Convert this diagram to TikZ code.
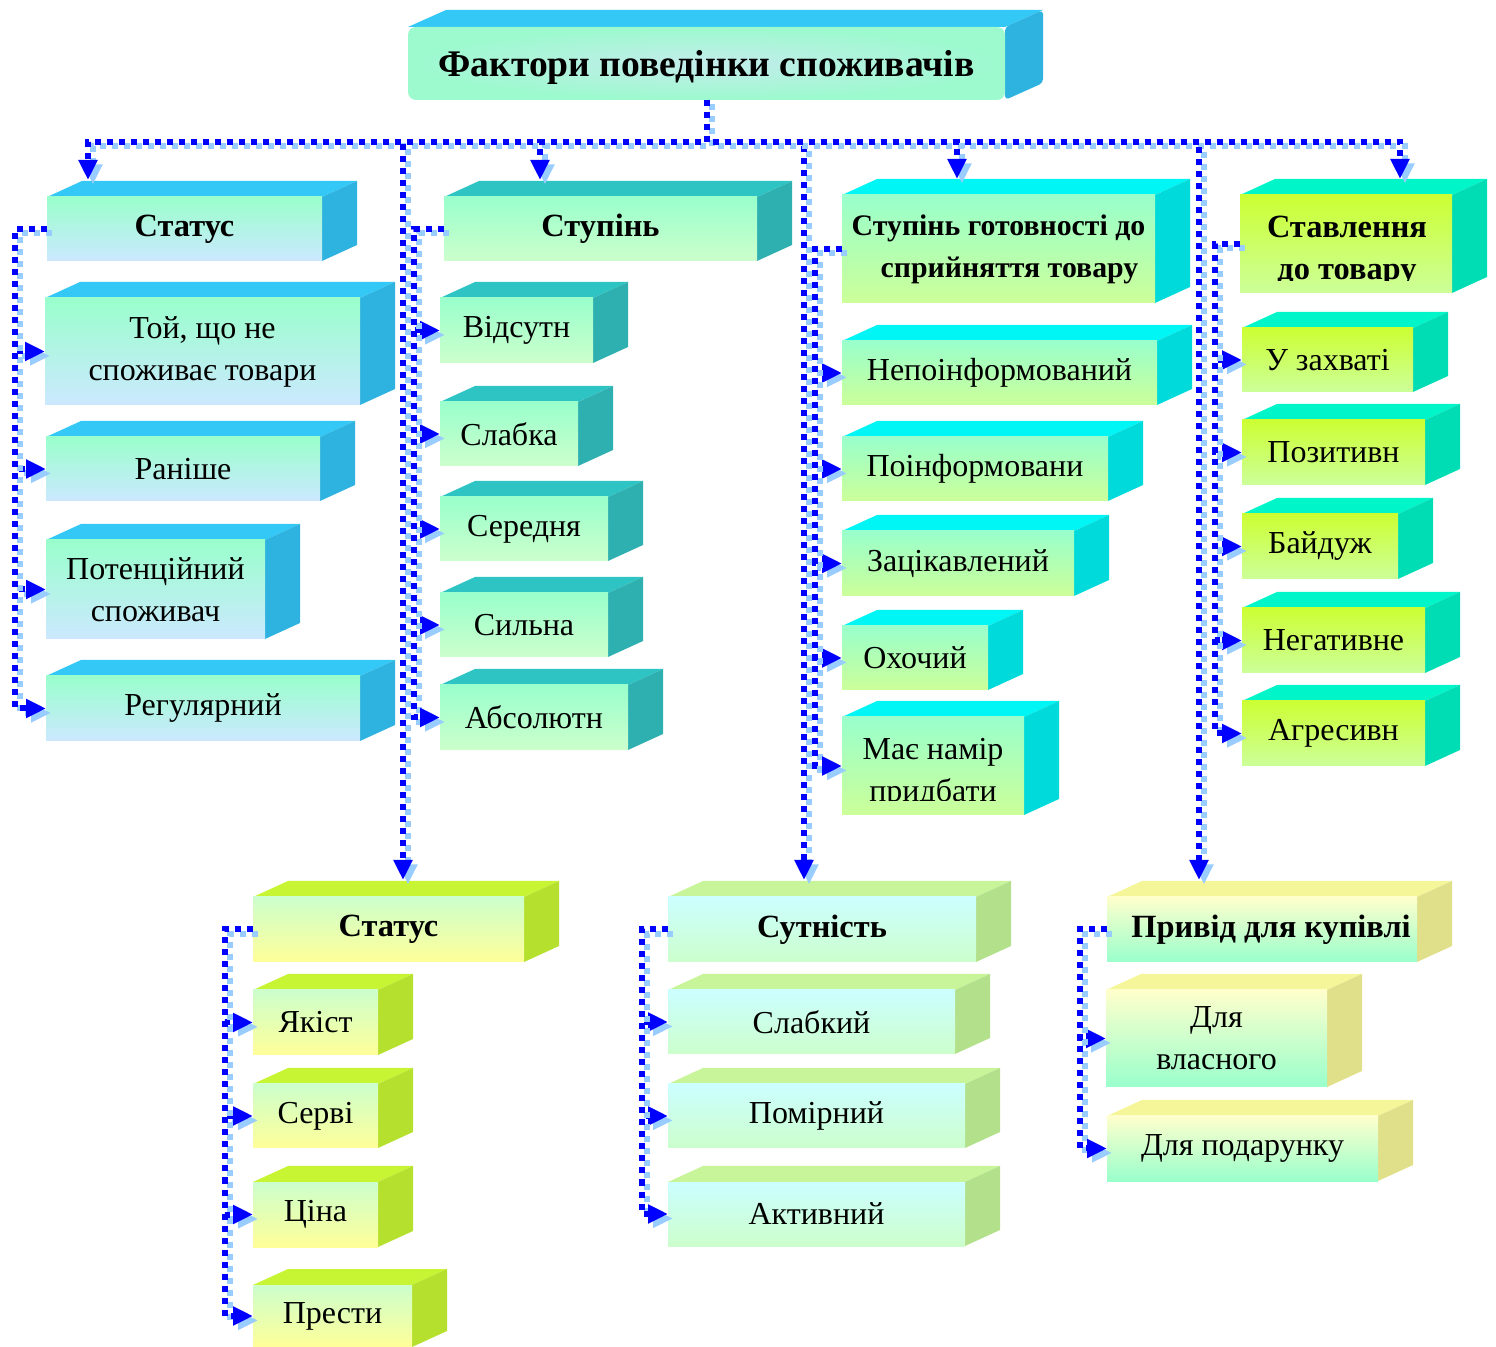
\documentclass[tikz,border=0pt]{standalone}
\usepackage{fontspec}
\setmainfont{Liberation Serif}
\usetikzlibrary{arrows.meta,calc}

\definecolor{wireblue}{HTML}{0000FF}
\definecolor{wirelight}{HTML}{99CCFF}

\newcommand\regfont{\fontsize{16}{21}\selectfont}
\newcommand\boldfont{\fontsize{16.2}{21}\selectfont\bfseries}
\newcommand\smallbold{\fontsize{14.9}{21}\selectfont\bfseries}
\newcommand\titlefont{\fontsize{18.8}{24}\selectfont\bfseries}

\tikzset{
  box/.style={inner sep=0pt, outer sep=0pt, align=center, font=\regfont, text=black},
  % colour schemes: top face, side face, front face
  Atop/.style={fill={rgb,255:red,51;green,200;blue,245}},
  Aside/.style={fill={rgb,255:red,46;green,178;blue,223}},
  Afront/.style={top color={rgb,255:red,153;green,255;blue,204}, bottom color={rgb,255:red,204;green,232;blue,255}},
  Btop/.style={fill={rgb,255:red,46;green,196;blue,196}},
  Bside/.style={fill={rgb,255:red,46;green,176;blue,176}},
  Bfront/.style={top color={rgb,255:red,153;green,255;blue,204}, bottom color={rgb,255:red,204;green,255;blue,204}},
  Ctop/.style={fill={rgb,255:red,0;green,245;blue,245}},
  Cside/.style={fill={rgb,255:red,0;green,218;blue,218}},
  Cfront/.style={top color={rgb,255:red,153;green,255;blue,204}, bottom color={rgb,255:red,204;green,255;blue,153}},
  Dtop/.style={fill={rgb,255:red,0;green,245;blue,200}},
  Dside/.style={fill={rgb,255:red,0;green,221;blue,181}},
  Dfront/.style={top color={rgb,255:red,204;green,255;blue,51}, bottom color={rgb,255:red,204;green,255;blue,153}},
  Etop/.style={fill={rgb,255:red,200;green,245;blue,51}},
  Eside/.style={fill={rgb,255:red,181;green,224;blue,46}},
  Efront/.style={top color={rgb,255:red,204;green,255;blue,204}, bottom color={rgb,255:red,255;green,255;blue,153}},
  Ftop/.style={fill={rgb,255:red,200;green,245;blue,154}},
  Fside/.style={fill={rgb,255:red,179;green,224;blue,138}},
  Ffront/.style={top color={rgb,255:red,204;green,255;blue,255}, bottom color={rgb,255:red,204;green,255;blue,204}},
  Gtop/.style={fill={rgb,255:red,245;green,245;blue,153}},
  Gside/.style={fill={rgb,255:red,224;green,224;blue,138}},
  Gfront/.style={top color={rgb,255:red,255;green,255;blue,204}, bottom color={rgb,255:red,153;green,255;blue,204}},
  % dotted connectors with a pale offset shadow
  wireline/.style={draw=wireblue, line width=3pt, dash pattern=on 3pt off 3pt,
    -{Triangle[length=10pt,width=9pt]}},
  wireshade/.style={draw=wirelight, line width=3pt, dash pattern=on 3pt off 3pt,
    -{Triangle[length=10pt,width=9pt]}, transform canvas={shift={(2.5pt,-2.2pt)}}},
}

% solid box: top face, right face, shaded front face carrying the text
% #1 name, #2 scheme, #3 #4 front top-left, #5 #6 front bottom-right, #7 text
\newcommand\solidbox[7]{%
  \fill[#2top] (#3,#4) -- (#3+35,#4-16) -- (#5+35,#4-16) -- (#5,#4) -- cycle;
  \fill[#2side] (#5,#4) -- (#5+35,#4-16) -- (#5+35,#6-16) -- (#5,#6) -- cycle;
  \node[box,#2front,minimum width={(#5-#3)*0.5pt},minimum height={(#6-#4)*0.5pt}]
    (#1) at ({(#3+#5)/2},{(#4+#6)/2}) {#7};
}
\newcommand\wire[1]{\draw[wireshade] #1; \draw[wireline] #1;}

\begin{document}
\begin{tikzpicture}[x=0.5pt,y=-0.5pt]
\useasboundingbox (0,0) rectangle (1496,1347);

% title box
\fill[Atop] (408,27) -- (446,10) -- (1043,10) -- (1005,27) -- cycle;
\fill[Aside, rounded corners=2pt] (1005,27) -- (1043,10) -- (1043,83) -- (1005,100) -- cycle;
\node[box, rounded corners=4pt, inner color={rgb,255:red,196;green,236;blue,236},
  outer color={rgb,255:red,156;green,250;blue,206}, minimum width=298.5pt, minimum height=36.5pt,
  font=\titlefont] (main) at (706.5,63.5) {\raisebox{-6.5pt}[0pt][0pt]{Фактори поведінки споживачів}};

% status column
\solidbox{hA}{A}{47}{197}{322}{261}{\boldfont Статус}
\solidbox{a1}{A}{45}{298}{360}{405}{Той, що не\\споживає товари}
\solidbox{a2}{A}{46}{437}{320}{501}{Раніше}
\solidbox{a3}{A}{46}{540}{265}{639}{Потенційний\\споживач}
\solidbox{a4}{A}{46}{676}{360}{741}{Регулярний}

% degree column
\solidbox{hB}{B}{444}{197}{757}{261}{\boldfont Ступінь}
\solidbox{b1}{B}{440}{298}{593}{363}{Відсутн}
\solidbox{b2}{B}{440}{402}{578}{466}{Слабка}
\solidbox{b3}{B}{440}{497}{608}{561}{Середня}
\solidbox{b4}{B}{440}{593}{608}{657}{Сильна}
\solidbox{b5}{B}{440}{685}{628}{750}{Абсолютн}

% readiness column
\solidbox{hC}{C}{842}{195}{1155}{303}{{\smallbold Ступінь готовності до}\\{\smallbold\hspace*{11pt}сприйняття товару}}
\solidbox{c1}{C}{842}{341}{1157}{405}{Непоінформований}
\solidbox{c2}{C}{842}{437}{1108}{501}{Поінформовани}
\solidbox{c3}{C}{842}{531}{1074}{596}{Зацікавлений}
\solidbox{c4}{C}{842}{626}{988}{690}{Охочий}
\solidbox{c5}{C}{842}{717}{1024}{815}{}
\begin{scope}
  \clip (842,717) rectangle (1024,801);
  \node[box] (c5txt) at (933,773) {Має намір\\придбати};
\end{scope}

% attitude column
\solidbox{hD}{D}{1240}{195}{1452}{293}{}
\begin{scope}
  \clip (1240,195) rectangle (1452,281);
  \node[box, font=\boldfont] (hDtxt) at (1347,251) {Ставлення\\до товару};
\end{scope}
\solidbox{d1}{D}{1242}{328}{1413}{392}{У захваті}
\solidbox{d2}{D}{1242}{420}{1425}{485}{Позитивн}
\solidbox{d3}{D}{1242}{514}{1398}{579}{Байдуж}
\solidbox{d4}{D}{1242}{608}{1425}{673}{Негативне}
\solidbox{d5}{D}{1242}{701}{1425}{766}{Агресивн}

% lower status group
\solidbox{hE}{E}{253}{897}{524}{962}{\boldfont Статус}
\solidbox{e1}{E}{253}{990}{378}{1055}{Якіст}
\solidbox{e2}{E}{253}{1084}{378}{1148}{Серві}
\solidbox{e3}{E}{253}{1182}{378}{1247}{Ціна}
\solidbox{e4}{E}{253}{1285}{412}{1347}{Прести}

% essence group
\solidbox{hF}{F}{668}{897}{976}{962}{\boldfont Сутність}
\solidbox{f1}{F}{668}{990}{955}{1054}{Слабкий}
\solidbox{f2}{F}{668}{1084}{965}{1148}{Помірний}
\solidbox{f3}{F}{668}{1182}{965}{1246}{Активний}

% motive group
\solidbox{hG}{G}{1107}{897}{1417}{962}{\boldfont \hspace*{9pt}Привід для купівлі}
\solidbox{g1}{G}{1106}{990}{1327}{1087}{Для\\власного}
\solidbox{g2}{G}{1107}{1116}{1378}{1181}{Для подарунку}

% drop points on the top faces
\coordinate (tA) at (88,180);
\coordinate (tB) at (540,180);
\coordinate (tC) at (957,179);
\coordinate (tD) at (1400,179);
\coordinate (tE) at (403,880);
\coordinate (tF) at (804,880);
\coordinate (tG) at (1199,880);

% main bus
\foreach \t in {tA,tB,tC,tD,tE,tF,tG}{
  \wire{(main.south) -- ++(0,42) -| (\t)}
}

% branches inside each group
\foreach \c in {a1,a2,a3,a4}{\wire{(hA.west) -- ++(-32,0) |- (\c.west)}}
\foreach \c in {b1,b2,b3,b4,b5}{\wire{(hB.west) -- ++(-30,0) |- (\c.west)}}
\foreach \c in {c1,c2,c3,c4,c5}{\wire{(hC.west) -- ++(-27,0) |- (\c.west)}}
\foreach \c in {d1,d2,d3,d4,d5}{\wire{(hD.west) -- ++(-25,0) |- (\c.west)}}
\foreach \c in {e1,e2,e3,e4}{\wire{(hE.west) -- ++(-28,0) |- (\c.west)}}
\foreach \c in {f1,f2,f3}{\wire{(hF.west) -- ++(-26,0) |- (\c.west)}}
\foreach \c in {g1,g2}{\wire{(hG.west) -- ++(-27,0) |- (\c.west)}}

\end{tikzpicture}
\end{document}
